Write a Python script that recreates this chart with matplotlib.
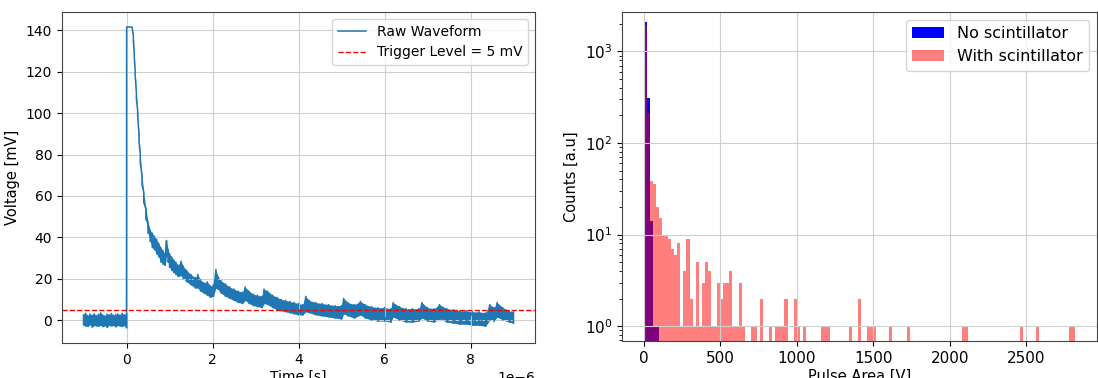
import numpy as np
import matplotlib
matplotlib.use("Agg")
import matplotlib.pyplot as plt

# ---------------- Raw waveform (time in microseconds, voltage in mV) ----------------
# upper and lower edges of the noisy trace at each time sample
trace_time_us = [
    -1.00, -0.95, -0.90, -0.85, -0.80, -0.75, -0.70, -0.65, -0.60, -0.55,
    -0.50, -0.45, -0.40, -0.35, -0.30, -0.25, -0.20, -0.15, -0.10, -0.05,
    0.00, 0.003, 0.13, 0.16, 0.18, 0.20, 0.23, 0.26, 0.29, 0.32,
    0.36, 0.40, 0.45, 0.50, 0.55, 0.60, 0.65, 0.70, 0.75, 0.80,
    0.85, 0.90, 0.93, 0.97, 1.00, 1.05, 1.10, 1.15, 1.20, 1.27,
    1.32, 1.40, 1.50, 1.60, 1.66, 1.72, 1.80, 1.88, 1.95, 2.02,
    2.08, 2.12, 2.20, 2.30, 2.40, 2.50, 2.60, 2.70, 2.76, 2.85,
    2.95, 3.05, 3.15, 3.20, 3.28, 3.40, 3.50, 3.60, 3.70, 3.80,
    3.90, 4.00, 4.10, 4.17, 4.25, 4.40, 4.55, 4.70, 4.85, 5.00,
    5.05, 5.15, 5.30, 5.44, 5.55, 5.70, 5.85, 6.00, 6.15, 6.20,
    6.35, 6.50, 6.65, 6.80, 6.87, 7.00, 7.15, 7.28, 7.45, 7.60,
    7.75, 7.90, 8.05, 8.20, 8.35, 8.45, 8.55, 8.62, 8.75, 8.90,
    9.00,
]
trace_upper_mV = [
    2.6, 3.3, 2.1, 2.9, 2.4, 3.1, 2.2, 2.8, 3.5, 2.5,
    2.0, 2.9, 2.6, 3.2, 2.3, 2.7, 3.0, 2.4, 3.3, 2.6,
    2.8, 141.6, 141.6, 137.0, 129.0, 121.0, 110.0, 101.0, 90.0, 80.0,
    70.0, 62.0, 54.0, 47.5, 43.5, 42.0, 40.5, 39.0, 37.0, 35.0,
    33.5, 32.0, 38.5, 34.0, 32.0, 30.5, 29.0, 28.0, 26.5, 28.5,
    26.0, 24.0, 22.0, 20.5, 22.0, 19.5, 18.0, 18.5, 16.5, 17.0,
    24.5, 21.5, 19.0, 17.5, 16.0, 15.0, 14.0, 13.5, 16.0, 14.0,
    12.5, 12.0, 11.5, 15.0, 14.0, 12.0, 11.0, 10.0, 9.5, 9.0,
    8.5, 8.0, 7.5, 11.5, 9.5, 8.5, 8.0, 7.5, 7.0, 7.0,
    10.5, 8.5, 7.5, 9.0, 7.5, 6.5, 6.0, 6.0, 5.5, 8.5,
    6.5, 5.5, 5.5, 5.5, 8.5, 6.0, 5.5, 7.5, 5.5, 5.0,
    4.5, 4.5, 4.0, 4.0, 3.5, 7.5, 6.0, 8.5, 6.0, 4.5,
    4.0,
]
trace_lower_mV = [
    -2.4, -2.9, -3.1, -2.2, -3.4, -2.6, -2.8, -3.0, -2.5, -3.2,
    -2.7, -3.5, -2.4, -2.9, -2.6, -3.3, -2.5, -2.9, -3.1, -2.6,
    -3.8, 141.6, 141.6, 135.0, 127.0, 118.5, 107.0, 98.0, 86.5, 76.0,
    65.5, 57.0, 48.5, 42.0, 38.0, 35.0, 34.0, 32.0, 30.5, 28.0,
    27.0, 26.5, 31.0, 28.0, 25.5, 24.0, 23.0, 22.0, 21.0, 21.5,
    20.0, 18.5, 17.0, 15.5, 15.5, 14.0, 13.0, 12.0, 11.0, 11.5,
    15.5, 15.0, 13.0, 11.5, 10.5, 9.5, 8.5, 8.0, 9.5, 8.0,
    7.0, 6.5, 6.0, 8.0, 7.5, 6.0, 5.0, 4.5, 4.0, 3.5,
    3.0, 2.5, 2.5, 4.0, 3.5, 2.5, 2.0, 1.5, 1.0, 0.5,
    3.0, 2.0, 1.0, 2.5, 1.0, 0.0, -0.5, -0.5, -1.0, 1.5,
    0.0, -1.0, -1.0, -0.5, 1.0, -0.5, -1.0, 0.5, -1.0, -1.5,
    -2.0, -2.0, -2.5, -2.5, -3.0, 0.0, -0.5, 1.5, 0.0, -1.0,
    -1.5,
]
trigger_level_mV = 5

# ---------------- Pulse-area histograms (20 V bins) ----------------
area_bin_width = 20
area_max = 2820

no_scint_area = [10, 30, 50, 70, 90]
no_scint_counts = [2090, 306, 14, 1, 1]

with_scint_area = [
    10, 30, 50, 70, 90, 110, 130, 150, 170, 190,
    210, 230, 250, 270, 290, 310, 330, 350, 370, 390,
    410, 430, 450, 470, 490, 510, 530, 550, 570, 590,
    610, 630, 650, 710, 730, 770, 830, 870, 890, 910,
    930, 990, 1010, 1050, 1170, 1190, 1210, 1350, 1410, 1470,
    1490, 1510, 1610, 1730, 2090, 2110, 2470, 2570, 2790, 2810,
]
with_scint_counts = [
    1950, 213, 38, 36, 20, 15, 10, 10, 9, 7,
    6, 8, 1, 4, 9, 2, 1, 5, 1, 3,
    5, 4, 1, 1, 3, 2, 3, 3, 4, 1,
    1, 3, 1, 1, 1, 2, 1, 1, 1, 1,
    2, 2, 1, 1, 1, 1, 1, 1, 2, 1,
    1, 1, 1, 1, 1, 1, 1, 1, 1, 1,
]

# ---------------- Figure ----------------
W, H = 1098, 378
fig = plt.figure(figsize=(W / 100, H / 100), dpi=100)


def px_axes(x0, x1, top, bottom):
    return fig.add_axes([x0 / W, 1 - bottom / H, (x1 - x0) / W, (bottom - top) / H])


ax1 = px_axes(62, 535, 12, 343)
ax2 = px_axes(622, 1097, 12, 341)

grid_style = dict(color="#cfcfcf", linewidth=0.8)
spine_color = "#444444"

wave_color = "#1f77b4"
t_s = np.asarray(trace_time_us) * 1e-6
upper = np.asarray(trace_upper_mV)
lower = np.asarray(trace_lower_mV)

ax1.fill_between(t_s, lower, upper, color=wave_color, lw=0)
zig_t = np.repeat(t_s, 2)
zig_v = np.column_stack([upper, lower]).ravel()
ax1.plot(zig_t, zig_v, color=wave_color, lw=1.1, label="Raw Waveform")
ax1.axhline(trigger_level_mV, color="red", ls="--", lw=1.0,
            label=f"Trigger Level = {trigger_level_mV} mV")

ax1.set_xlabel("Time [s]", fontsize=10, labelpad=2)
ax1.set_ylabel("Voltage [mV]", fontsize=10.5)
ax1.tick_params(labelsize=10)
ax1.xaxis.get_offset_text().set_fontsize(10)
ax1.grid(True, **grid_style)
ax1.legend(loc="upper right", fontsize=10)

edges = np.arange(0, area_max + area_bin_width, area_bin_width)
ax2.hist(no_scint_area, bins=edges, weights=no_scint_counts,
         color="blue", label="No scintillator")
ax2.hist(with_scint_area, bins=edges, weights=with_scint_counts,
         color="red", alpha=0.5, label="With scintillator")
ax2.set_yscale("log")
ax2.set_ylim(0.69, 2690)
ax2.set_xlabel("Pulse Area [V]", fontsize=10.5, labelpad=2)
ax2.set_ylabel("Counts [a.u]", fontsize=10.5)
ax2.tick_params(labelsize=11)
ax2.grid(True, **grid_style)
ax2.legend(loc="upper right", fontsize=11.5)

for ax in (ax1, ax2):
    for sp in ax.spines.values():
        sp.set_color(spine_color)

fig.savefig("out.png", dpi=100)
